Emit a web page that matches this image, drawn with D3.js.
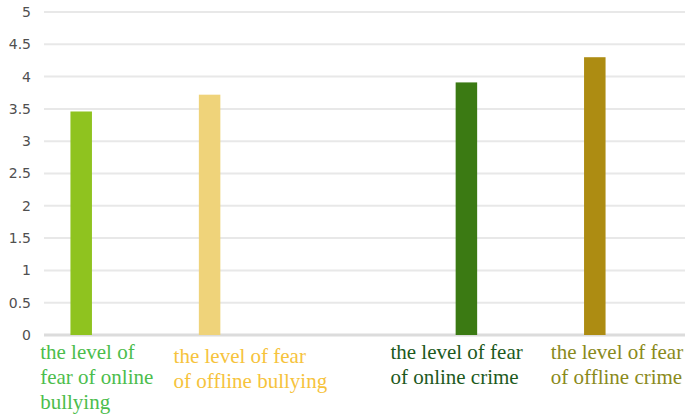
<!DOCTYPE html>
<html>
<head>
<meta charset="utf-8">
<script src="https://cdn.jsdelivr.net/npm/d3@7"></script>
<style>
  body { margin: 0; background: #fff; }
</style>
</head>
<body>
<svg id="chart"></svg>
<script>
// categories (the empty slot is the gap in the middle of the chart)
let categories = ['online bullying', 'offline bullying', '', 'online crime', 'offline crime'];
let values = [3.46, 3.72, null, 3.91, 4.30];
let labelLines = [
  ['the level of', 'fear of online', 'bullying'],
  ['the level of fear', 'of offline bullying'],
  [],
  ['the level of fear', 'of online crime'],
  ['the level of fear', 'of offline crime']
];
let yTicks = [0, 0.5, 1, 1.5, 2, 2.5, 3, 3.5, 4, 4.5, 5];

let barColors = ['#8fc31f', '#efd37a', null, '#3b7a13', '#ad8c12'];
let labelColors = ['#4cbd4c', '#f6c33c', null, '#1d5a1d', '#8a8a1c'];

let width = 685;
let height = 418;
let margin = { top: 12, bot: 83, left: 44, right: 0 };

let svg = d3.select('#chart')
  .attr('width', width)
  .attr('height', height);

let xScale = d3.scaleBand()
  .domain(d3.range(categories.length))
  .range([17, 659]);
let yScale = d3.scaleLinear()
  .domain([0, 5])
  .range([height - margin.bot, margin.top]);

// grid lines
svg.append('g')
  .selectAll('line')
  .data(yTicks)
  .join('line')
  .attr('x1', margin.left)
  .attr('x2', width)
  .attr('y1', d => yScale(d))
  .attr('y2', d => yScale(d))
  .attr('stroke', d => d === 0 ? '#dcdcdc' : '#e8e8e8')
  .attr('stroke-width', d => d === 0 ? 3 : 2);

// y axis labels
let yAx = d3.axisLeft(yScale)
  .tickValues(yTicks)
  .tickSize(0)
  .tickPadding(0)
  .tickFormat(d3.format('~g'));
let yAxGroup = svg.append('g')
  .attr('transform', `translate(31,0)`)
  .call(yAx);
yAxGroup.select('.domain').remove();
yAxGroup.selectAll('text')
  .style('font-family', 'DejaVu Sans, sans-serif')
  .style('font-size', '14px')
  .attr('fill', '#505050');

// bars
let barW = 21.5;
let idx = d3.range(categories.length).filter(i => values[i] != null);
svg.append('g')
  .selectAll('rect')
  .data(idx)
  .join('rect')
  .attr('x', i => xScale(i) + xScale.bandwidth() / 2 - barW / 2)
  .attr('y', i => yScale(values[i]))
  .attr('width', barW)
  .attr('height', i => yScale(0) - yScale(values[i]))
  .attr('fill', i => barColors[i]);

// category labels, hand placed like the original text boxes
let labelDx = [-41, -36, 0, -76, -44];
let labelTop = [359, 363, 0, 359, 359];
let lineH = 25;
let labels = svg.append('g')
  .selectAll('text')
  .data(idx)
  .join('text')
  .attr('x', i => xScale(i) + xScale.bandwidth() / 2 + labelDx[i])
  .attr('y', i => labelTop[i])
  .attr('fill', i => labelColors[i])
  .style('font-family', 'Liberation Serif, Times New Roman, serif')
  .style('font-size', '21px');
labels.selectAll('tspan')
  .data(i => labelLines[i].map((t, k) => ({ t, k, i })))
  .join('tspan')
  .attr('x', d => xScale(d.i) + xScale.bandwidth() / 2 + labelDx[d.i])
  .attr('dy', d => d.k === 0 ? 0 : lineH)
  .text(d => d.t);
</script>
</body>
</html>
